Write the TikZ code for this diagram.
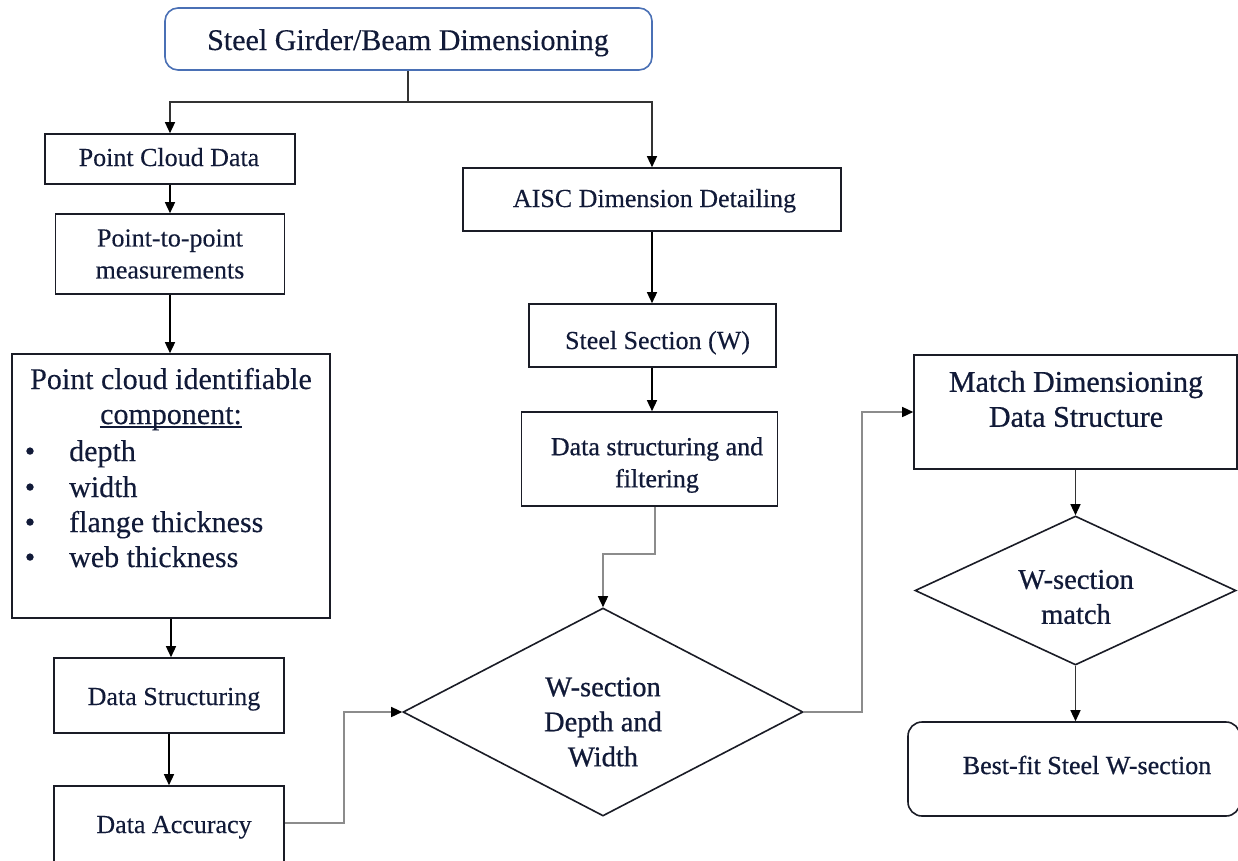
\documentclass[tikz,border=0pt]{standalone}
\usepackage{fontspec}
\setmainfont{Liberation Serif}[FakeBold=0.25]
\newfontfamily\heavyserif[FakeBold=0.7]{Liberation Serif}
\usetikzlibrary{shapes.geometric,arrows.meta}

\definecolor{ink}{HTML}{111A38}
\definecolor{edge}{HTML}{1A1C26}
\definecolor{titleblue}{HTML}{4A70B5}
\definecolor{linegray}{HTML}{8C8C8C}
\definecolor{linedark}{HTML}{333333}

\newcommand\fsbox{\fontsize{26}{32}\selectfont}
\newcommand\fsbig{\fontsize{30}{35}\selectfont}
\newcommand\fsdia{\fontsize{28.5}{35}\selectfont}

\begin{document}
\begin{tikzpicture}[x=1pt,y=-1pt,
  box/.style={draw=edge, line width=1.6pt, rectangle, inner sep=0pt},
  dia/.style={draw=edge, line width=1.6pt, diamond, inner sep=0pt},
  txt/.style={text=ink, inner sep=0pt, align=center},
  tip/.tip={Triangle[length=11pt,width=10pt,color=black]},
  arr/.style={-tip, line width=1.4pt, draw=black},
  arrdark/.style={-tip, line width=1.3pt, draw=linedark},
  arrgray/.style={-tip, line width=1.4pt, draw=linegray},
  link/.style={line width=1.3pt, draw=linedark}]

\useasboundingbox (0,0) rectangle (1238,860);
\clip (0,0) rectangle (1238,860);
\fill[white] (0,0) rectangle (1238,860);

% ---- title ----
\node[draw=titleblue, line width=1.6pt, rounded corners=13pt, inner sep=0pt,
      minimum width=487, minimum height=62] (title) at (408.5,39) {};
\node[txt, font=\fsbig, anchor=base] (titletxt) at (408,50) {Steel Girder/Beam Dimensioning};

% ---- left column ----
\node[box, minimum width=250, minimum height=50] (pcd) at (170,159) {};
\node[txt, font=\fsbox, anchor=base] (pcdtxt) at (169,166) {Point Cloud Data};

\node[box, minimum width=229, minimum height=80] (p2p) at (170,254) {};
\node[txt, font=\fsbox] (p2ptxt) at (170,254) {Point-to-point\\measurements};

\node[box, minimum width=318, minimum height=264] (comp) at (171,486) {};
\node[txt, font=\fsbig, anchor=base] (comph) at (171,389) {Point cloud identifiable};
\node[txt, font=\fsbig, anchor=base] (compu) at (171,424) {component:};
\draw[ink, line width=1.2pt] ([yshift=-3pt]compu.base west) -- ([yshift=-3pt]compu.base east);
\foreach \n/\yy/\item in {b1/461/depth, b2/497/width, b3/532/flange thickness, b4/567/web thickness}{
  \node[txt, font=\fsbig, anchor=base] (\n dot) at (30,\yy) {\textbullet};
  \node[txt, font=\fsbig, anchor=base west] (\n txt) at (69,\yy) {\item};
}

\node[box, minimum width=230, minimum height=75] (dstruct) at (169,695.5) {};
\node[txt, font=\fsbox, anchor=base] (dstructtxt) at (174,705) {Data Structuring};

\node[box, minimum width=230, minimum height=114] (dacc) at (169,843) {};
\node[txt, font=\fsbox, anchor=base] (dacctxt) at (174,833) {Data Accuracy};

% ---- middle column ----
\node[box, minimum width=378, minimum height=63] (aisc) at (652,199.5) {};
\node[txt, font=\fsbox, anchor=base] (aisctxt) at (654.5,207) {AISC Dimension Detailing};

\node[box, minimum width=247, minimum height=63] (steel) at (652.5,335.5) {};
\node[txt, font=\fsbox, anchor=base] (steeltxt) at (657.5,349) {Steel Section (W)};

\node[box, minimum width=256, minimum height=94] (filt) at (649.5,459) {};
\node[txt, font=\fsbox\heavyserif] (filttxt) at (657,465) {Data structuring and\\filtering};

\node[dia, minimum width=400, minimum height=208] (d1) at (603,712) {};
\node[txt, font=\fsdia\heavyserif] (d1txt) at (603,722) {W-section\\Depth and\\Width};

% ---- right column ----
\node[box, minimum width=323, minimum height=114] (match) at (1075.5,412) {};
\node[txt, font=\fsbig\heavyserif] (matchtxt) at (1076,399) {Match Dimensioning\\Data Structure};

\node[dia, minimum width=321, minimum height=149] (d2) at (1075.5,590.5) {};
\node[txt, font=\fsdia\heavyserif] (d2txt) at (1076,597) {W-section\\match};

\node[draw=edge, line width=1.6pt, rounded corners=14pt, inner sep=0pt,
      minimum width=332, minimum height=94] (best) at (1074,769) {};
\node[txt, font=\fsbox\heavyserif, anchor=base] (besttxt) at (1087,774) {Best-fit Steel W-section};

% ---- connectors ----
\coordinate (split) at (408,102);
\draw[link] (title.south -| split) -- (split);
\draw[arrdark] (split) -| (pcd.north);
\draw[arrdark] (split) -| (aisc.north);

\draw[arr] (pcd.south) -- (pcd.south |- p2p.north);
\draw[arr] (p2p.south) -- (p2p.south |- comp.north);
\draw[arr] (comp.south) -- (comp.south |- dstruct.north);
\draw[arr] (dstruct.south) -- (dstruct.south |- dacc.north);

\draw[arr] (aisc.south) -- (aisc.south |- steel.north);
\draw[arr] (steel.south -| aisc.south) -- (aisc.south |- filt.north);

\coordinate (f1) at (655,554);
\draw[arrgray] (filt.south -| f1) -- (f1) -| (d1.north);

\coordinate (a1) at (344,823);
\draw[arrgray] (dacc.east |- a1) -- (a1) |- (d1.west);

\coordinate (m1) at (862,712);
\draw[arrgray] (d1.east) -- (m1) |- (match.west);

\draw[arrdark] (match.south) -- (d2.north);
\draw[arrdark] (d2.south) -- (d2.south |- best.north);
\end{tikzpicture}
\end{document}
